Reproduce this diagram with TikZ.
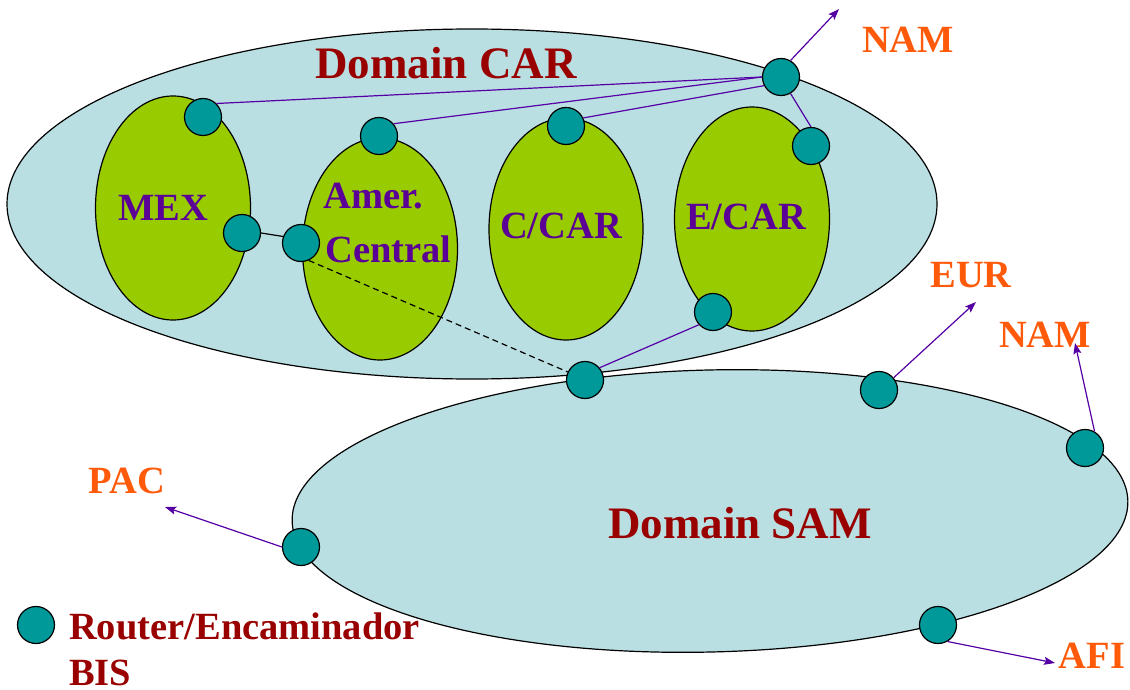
\documentclass[tikz,border=0pt]{standalone}
\usepackage{fontspec}
\setmainfont{Liberation Serif}
\usetikzlibrary{arrows.meta,calc}
\definecolor{domfill}{RGB}{186,223,226}
\definecolor{subgreen}{RGB}{153,204,0}
\definecolor{routerteal}{RGB}{0,153,153}
\definecolor{domred}{RGB}{153,0,0}
\definecolor{labpurple}{RGB}{90,0,150}
\definecolor{linkpurple}{RGB}{85,0,165}
\definecolor{extorange}{RGB}{255,90,10}
\tikzset{
  domainshape/.style={fill=domfill,draw=black,line width=1.2pt},
  subshape/.style={fill=subgreen,draw=black,line width=1.2pt},
  router/.style={circle,fill=routerteal,draw=black,line width=1.2pt,minimum size=37pt,inner sep=0pt},
  domlabel/.style={text=domred,font=\fontsize{45}{54}\selectfont\bfseries,inner sep=0pt,anchor=base},
  sublabel/.style={text=labpurple,font=\fontsize{38.5}{46}\selectfont\bfseries,inner sep=0pt,anchor=base},
  extlabel/.style={text=extorange,font=\fontsize{38.5}{46}\selectfont\bfseries,inner sep=0pt,anchor=base},
  leglabel/.style={text=domred,font=\fontsize{38.5}{46}\selectfont\bfseries,inner sep=0pt,anchor=base west},
  link/.style={draw=linkpurple,line width=1.2pt},
  extlink/.style={draw=linkpurple,line width=1.2pt,-{Stealth[length=11pt,width=8pt,inset=2pt]}},
  blacklink/.style={draw=black,line width=1.2pt},
}
\begin{document}
\begin{tikzpicture}[x=1pt,y=-1pt]
\useasboundingbox (0,0) rectangle (1130,690);
% domains
\path[domainshape] (472,204) ellipse [x radius=465, y radius=175];
\path[domainshape,rotate around={1.4:(710,511)}] (710,511) ellipse [x radius=418, y radius=141];
% sub-regions
\path[subshape] (173,208) ellipse [x radius=77.5, y radius=112];
\path[subshape] (380,249) ellipse [x radius=77.5, y radius=111];
\path[subshape] (566,229) ellipse [x radius=77, y radius=111];
\path[subshape] (752,219) ellipse [x radius=77.5, y radius=112];
% labels
\node[domlabel] (carlab) at (446,79) {Domain CAR};
\node[domlabel] (samlab) at (740,538) {Domain SAM};
\node[sublabel] (mexlab) at (163,220) {MEX};
\node[sublabel,anchor=base west] (amerlab) at (323,208) {Amer.};
\node[sublabel,anchor=base west] (centrallab) at (325,262) {Central};
\node[sublabel] (ccarlab) at (561,238) {C/CAR};
\node[sublabel] (ecarlab) at (746,229) {E/CAR};
\node[extlabel] (namtlab) at (908,53) {NAM};
\node[extlabel] (eurlab) at (971,287) {EUR};
\node[extlabel] (namrlab) at (1045,347) {NAM};
\node[extlabel] (paclab) at (127,493) {PAC};
\node[extlabel] (afilab) at (1092,668) {AFI};
\node[leglabel] (legone) at (69,639) {Router/Encaminador};
\node[leglabel] (legtwo) at (69,685) {BIS};
% routers
\node[router] (mexT) at (203,117) {};
\node[router] (mexR) at (242,233) {};
\node[router] (amerL) at (301,243) {};
\node[router] (amerT) at (379,136) {};
\node[router] (ccarT) at (566,126) {};
\node[router] (hub) at (781,77) {};
\node[router] (ecarR) at (811,146) {};
\node[router] (ecarB) at (713,312) {};
\node[router] (samT) at (585,380) {};
\node[router] (samE) at (879,390) {};
\node[router] (samR) at (1085,448) {};
\node[router] (samB) at (938,625) {};
\node[router] (pacR) at (301,547) {};
\node[router] (legR) at (36,625) {};
% free ends of outgoing arrows
\coordinate (toNAMt) at (839,9);
\coordinate (toEUR) at (976,302);
\coordinate (toNAMr) at (1075,343);
\coordinate (toPAC) at (165,507);
\coordinate (toAFI) at (1055,663);
% links inside CAR
\draw[link] (hub.180) -- (mexT.45);
\draw[link] (hub.180) -- (amerT.40);
\draw[link] (hub.207) -- (ccarT.25);
\draw[link] (hub.300) -- (ecarR.north);
\draw[link] (ecarB.222) -- (samT.40);
\draw[blacklink] (mexR.east) -- (amerL.160);
\draw[blacklink,dashed,dash pattern=on 6pt off 4pt] (amerL.294) -- (samT.155);
% external links
\draw[extlink] (hub.60) -- (toNAMt);
\draw[extlink] (samE.40) -- (toEUR);
\draw[extlink] (samR.60) -- (toNAMr);
\draw[extlink] (pacR.west) -- (toPAC);
\draw[extlink] (samB.300) -- (toAFI);
\end{tikzpicture}
\end{document}
